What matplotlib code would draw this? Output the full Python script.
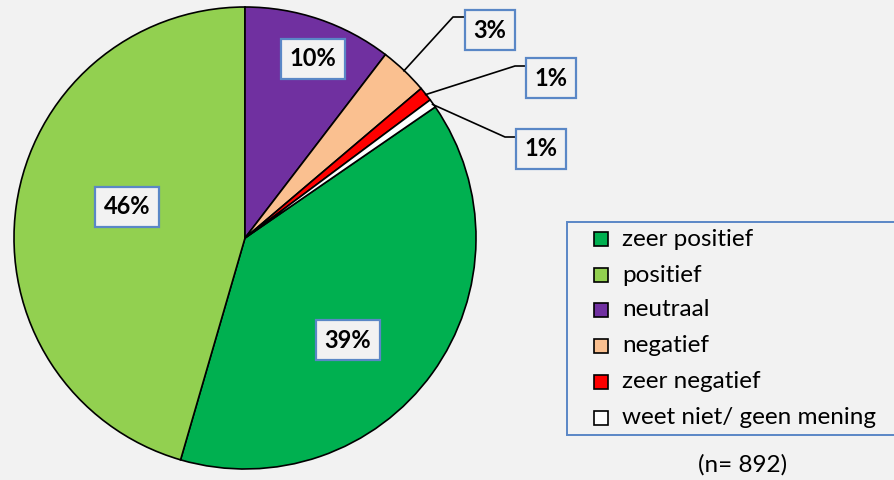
import matplotlib.pyplot as plt
from matplotlib.patches import Rectangle
import numpy as np

# shares; labels as printed on the chart
categories = ["zeer positief", "positief", "neutraal", "negatief",
              "zeer negatief", "weet niet/ geen mening"]
shares = [39.1, 45.5, 10.4, 3.4, 1.0, 0.6]
pct_labels = ["39%", "46%", "10%", "3%", "1%", "1%"]
colors = ["#00B050", "#92D050", "#7030A0", "#FAC090", "#FF0000", "#FFFFFF"]
n_total = 892

W, H = 894, 480
BG = "#F2F2F2"
BLUE = "#5A87C6"
plt.rcParams["font.family"] = ["Lato", "DejaVu Sans"]

fig = plt.figure(figsize=(W / 100, H / 100), dpi=100, facecolor=BG)
ax = fig.add_axes([0, 0, 1, 1])
ax.set_facecolor(BG)


def py(y):
    # pixel y (top-down) -> data y
    return H - y


cx, cy, r = 245, py(238), 231
start = 90 - sum(shares[2:]) * 3.6
wedges, _ = ax.pie(shares, colors=colors, startangle=start, counterclock=False,
                   center=(cx, cy), radius=r,
                   wedgeprops=dict(edgecolor="black", linewidth=1.2))

ax.set_xlim(0, W)
ax.set_ylim(0, H)
ax.set_aspect("equal")
ax.axis("off")

box = dict(boxstyle="square,pad=0.38", facecolor=BG, edgecolor=BLUE, linewidth=1.6)

# inside labels (pixel centres)
inside_pos = {0: (348, 340), 1: (127, 207), 2: (313, 59)}
for i, (x, y) in inside_pos.items():
    ax.text(x, py(y), pct_labels[i], ha="center", va="center", fontsize=17,
            fontweight="bold", bbox=box)

# outside labels with leader lines: (label centre, elbow point, line end)
outside = {3: ((490, 30), (453, 17), (465, 17)),
           4: ((551, 78), (515, 66), (527, 66)),
           5: ((541, 149), (505, 137), (516, 137))}
for i, (lab, elbow, end) in outside.items():
    w = wedges[i]
    mid = np.deg2rad((w.theta1 + w.theta2) / 2)
    x0 = cx + r * 0.995 * np.cos(mid)
    y0 = cy + r * 0.995 * np.sin(mid)
    ax.plot([x0, elbow[0], end[0]], [y0, py(elbow[1]), py(end[1])],
            color="black", linewidth=1.2, solid_capstyle="butt")
    ax.text(lab[0], py(lab[1]), pct_labels[i], ha="center", va="center",
            fontsize=17, fontweight="bold", bbox=box, zorder=5)

# legend
ax.add_patch(Rectangle((567, py(435)), 340, 213, facecolor=BG, edgecolor=BLUE,
                       linewidth=1.4, zorder=3))
row_y = [239, 275, 310, 346, 382, 418]
for cat, col, y in zip(categories, colors, row_y):
    ax.add_patch(Rectangle((594, py(y) - 7), 14, 14, facecolor=col,
                           edgecolor="black", linewidth=1.2, zorder=4))
    ax.text(622, py(y), cat, ha="left", va="center", fontsize=17.5, zorder=4)

ax.text(743, py(465), f"(n= {n_total})", ha="center", va="center", fontsize=17.5)

fig.savefig("out.png", dpi=100, facecolor=BG)
